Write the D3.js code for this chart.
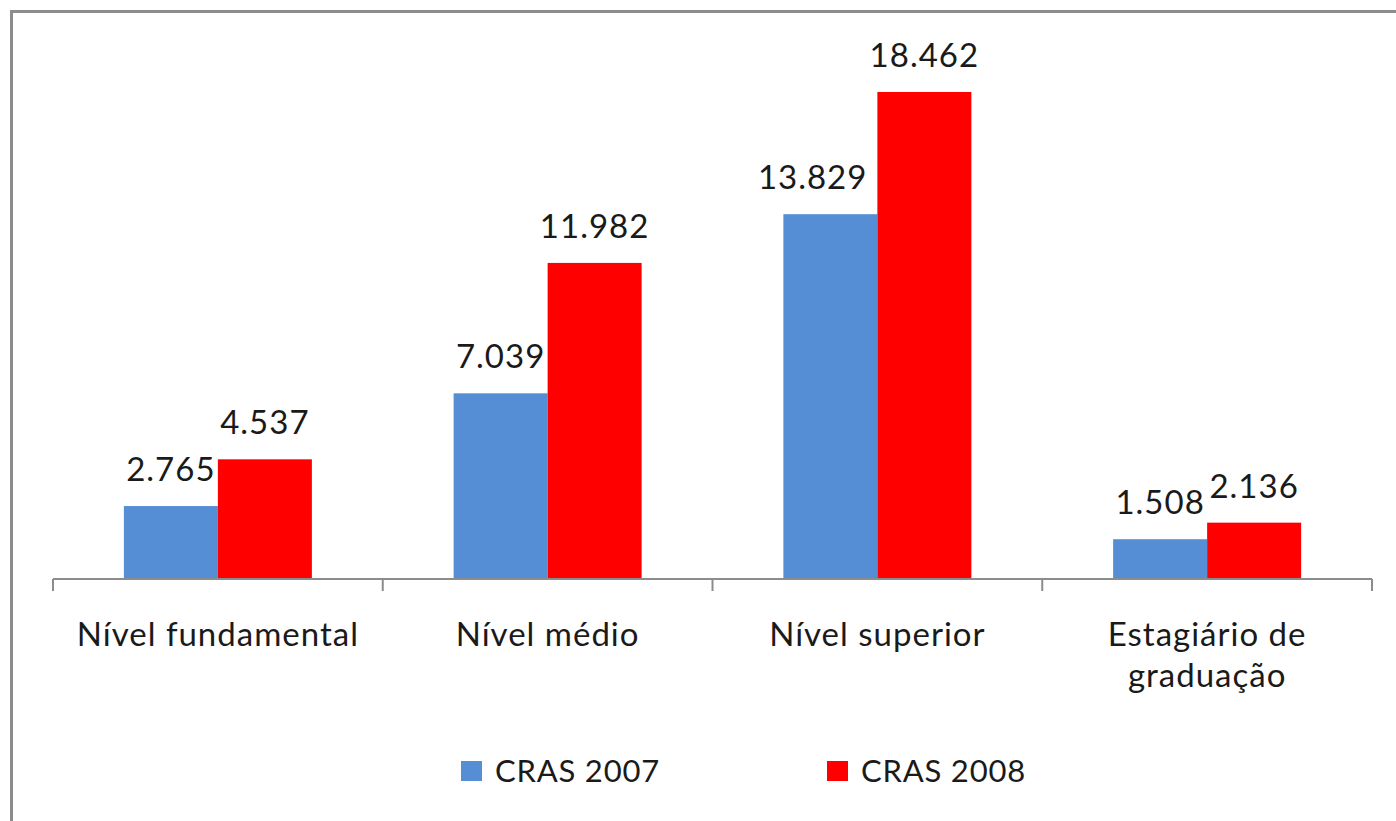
<!DOCTYPE html>
<html>
<head>
<meta charset="utf-8">
<script src="https://cdn.jsdelivr.net/npm/d3@7"></script>
<style>
  body { margin: 0; background: #fff; }
  text { font-family: Lato, "Open Sans", sans-serif; fill: #1a1a1a; }
</style>
</head>
<body>
<svg id="chart" width="1396" height="821"></svg>
<script>
const categories = ["Nível fundamental", "Nível médio", "Nível superior", "Estagiário de|graduação"];
const series = ["CRAS 2007", "CRAS 2008"];
const cras2007 = [2765, 7039, 13829, 1508];
const cras2008 = [4537, 11982, 18462, 2136];
const colors = ["#558ed5", "#ff0000"];

const fmt = v => d3.format(",")(v).replace(/,/g, ".");

const svg = d3.select("#chart");

// moldura cinza (cortada à direita e em baixo)
svg.append("rect")
    .attr("x", 11.5).attr("y", 11.5)
    .attr("width", 1420).attr("height", 840)
    .attr("fill", "none")
    .attr("stroke", "#8c8c8c")
    .attr("stroke-width", 3);

const x0 = d3.scaleBand().domain(categories).range([53, 1372]);
const x1 = d3.scaleBand().domain(series).range([0, x0.bandwidth()]).paddingOuter(0.754);
const y = d3.scaleLinear().domain([0, 20000]).range([579, 51.4]);

const data = categories.map((c, i) => ({ cat: c, vals: [cras2007[i], cras2008[i]] }));

const groups = svg.selectAll("g.grp")
    .data(data)
    .join("g")
    .attr("class", "grp")
    .attr("transform", d => `translate(${x0(d.cat)},0)`);

groups.selectAll("rect")
    .data(d => d.vals.map((v, j) => ({ s: series[j], v, j })))
    .join("rect")
    .attr("x", d => x1(d.s))
    .attr("y", d => y(d.v))
    .attr("width", x1.bandwidth())
    .attr("height", d => y(0) - y(d.v))
    .attr("fill", d => colors[d.j]);

groups.selectAll("text.val")
    .data(d => d.vals.map((v, j) => ({ s: series[j], v, j })))
    .join("text")
    .attr("class", "val")
    .attr("x", d => x1(d.s) + x1.bandwidth() / 2)
    .attr("y", d => y(d.v) - 25)
    .attr("text-anchor", "middle")
    .attr("font-size", 33)
    .attr("letter-spacing", 1)
    .text(d => fmt(d.v))
    .each(function(d) {
        // rótulo que invade a barra vermelha: empurra para a esquerda
        if (d.j !== 0) return;
        const w = this.getComputedTextLength();
        const barRight = x1(d.s) + x1.bandwidth();
        const right = x1(d.s) + x1.bandwidth() / 2 + w / 2;
        if (right > barRight) d3.select(this).attr("x", +d3.select(this).attr("x") - (right - barRight + 10));
    });

// eixo x
const axis = svg.append("g")
    .attr("transform", "translate(0,579)")
    .call(d3.axisBottom(x0).tickSize(0).tickFormat(""));
axis.select(".domain").attr("stroke", "#8c8c8c").attr("stroke-width", 2).attr("d", "M53,0H1372");
axis.selectAll(".tick").remove();

const edges = categories.map(c => x0(c)).concat([x0.range()[1]]);
axis.selectAll("line.tk")
    .data(edges)
    .join("line")
    .attr("class", "tk")
    .attr("x1", d => d).attr("x2", d => d)
    .attr("y1", 0).attr("y2", 12)
    .attr("stroke", "#8c8c8c")
    .attr("stroke-width", 2);

svg.selectAll("text.cat")
    .data(categories)
    .join("text")
    .attr("class", "cat")
    .attr("text-anchor", "middle")
    .attr("font-size", 33)
    .attr("letter-spacing", 1)
    .attr("x", d => x0(d) + x0.bandwidth() / 2)
    .attr("y", 646)
    .selectAll("tspan")
    .data(d => d.split("|"))
    .join("tspan")
    .attr("x", function() { return d3.select(this.parentNode).attr("x"); })
    .attr("dy", (d, i) => i === 0 ? 0 : 41)
    .text(d => d);

// legenda
const legX = [461, 827];
const leg = svg.selectAll("g.leg")
    .data(series)
    .join("g")
    .attr("class", "leg")
    .attr("transform", (d, i) => `translate(${legX[i]},761)`);
leg.append("rect")
    .attr("width", 21).attr("height", 20)
    .attr("fill", (d, i) => colors[i]);
leg.append("text")
    .attr("x", 34).attr("y", 21)
    .attr("font-size", 31)
    .attr("letter-spacing", 0.8)
    .text(d => d);
</script>
</body>
</html>
